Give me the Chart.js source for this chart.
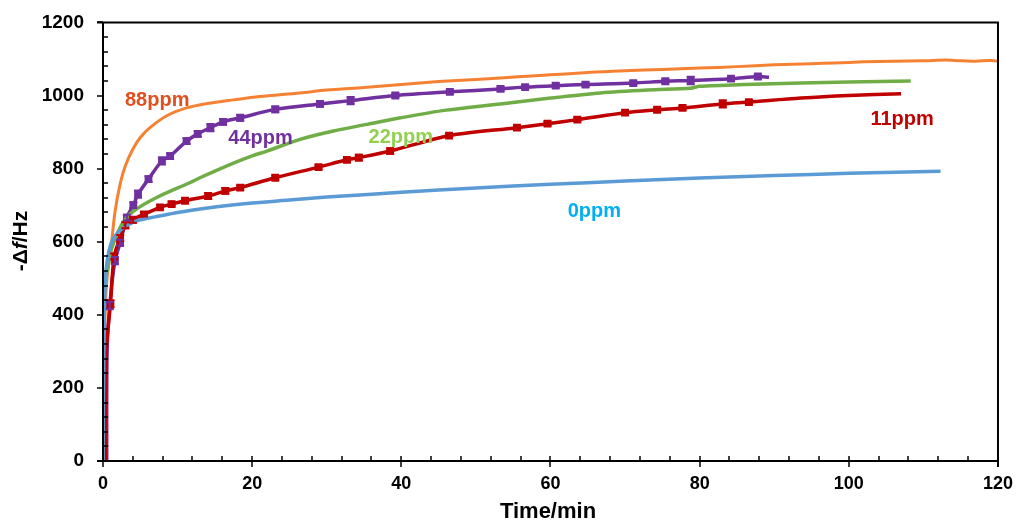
<!DOCTYPE html>
<html>
<head>
<meta charset="utf-8">
<script src="https://cdn.jsdelivr.net/npm/chart.js@4.4.1/dist/chart.umd.min.js"></script>
<style>
html,body{margin:0;padding:0;background:#fff;}
#wrap{width:1017px;height:525px;position:relative;}
</style>
</head>
<body>
<div id="wrap"><canvas id="c" width="1017" height="525"></canvas></div>
<script>
// ---- data (time in min, -Δf in Hz) ----
const blueT = [0, 0.15, 0.4, 0.8, 1.3, 2, 3, 4, 5, 7, 10, 15, 20, 25, 30, 40, 50, 60, 70, 80, 90, 100, 112.3];
const blueV = [0, 380, 520, 575, 605, 625, 642, 653, 660, 668, 680, 695, 706, 714, 722, 735, 747, 757, 766, 774, 781, 787, 793];

const orangeT = [0, 0.15, 0.4, 0.7, 1, 1.6, 2.3, 3, 4, 5, 6.3, 8.5, 11.2, 14, 17.5, 21, 26.4, 30, 35, 40, 45, 50, 53.3, 58, 62, 66, 70, 75, 80, 85, 90, 95, 98, 102, 106, 110, 113, 115, 117, 119, 120];
const orangeV = [0, 300, 460, 530, 570, 680, 758, 808, 853, 885, 912, 944, 966, 978, 988, 997, 1007, 1015, 1022, 1030, 1038, 1044, 1048, 1054, 1059, 1064, 1068, 1071, 1075, 1079, 1084, 1087, 1089, 1092, 1094, 1095, 1097, 1095, 1094, 1096, 1094];

const greenT = [0, 0.05, 0.5, 1, 1.8, 2.7, 4.1, 7.2, 11.7, 13, 17.5, 20, 22, 26.4, 30.9, 35.4, 39.9, 46, 53.3, 60, 66.7, 73, 78.8, 80, 86, 93.6, 100, 108.3];
const greenV = [0, 512, 515, 570, 616, 653, 684, 721, 762, 775, 815, 835, 848, 880, 903, 921, 939, 960, 977, 993, 1007, 1015, 1020, 1025, 1030, 1034, 1037, 1040];

const redT = [0.35, 0.45, 1, 1.5, 2.3, 3, 4, 5.5, 7.65, 9.2, 11, 14.1, 16.4, 18.4, 23.1, 28.9, 32.7, 34.3, 38.5, 46.4, 55.5, 59.6, 63.6, 70, 74.3, 77.7, 83.1, 86.6, 93.6, 100, 107];
const redV = [0, 300, 430, 560, 610, 645, 660, 675, 694, 703, 712, 725, 739, 748, 775, 804, 824, 830, 848, 890, 912, 923, 934, 953, 961, 966, 977, 982, 993, 1000, 1005];
const redMarkT = [1, 1.5, 2.3, 3, 4, 5.5, 7.65, 9.2, 11, 14.1, 16.4, 18.4, 23.1, 28.9, 32.7, 34.3, 38.5, 46.4, 55.5, 59.6, 63.6, 70, 74.3, 77.7, 83.1, 86.6];
const redMarkV = [430, 560, 610, 645, 660, 675, 694, 703, 712, 725, 739, 748, 775, 804, 824, 830, 848, 890, 912, 923, 934, 953, 961, 966, 977, 982];
const redErr   = [10, 8, 8, 8, 8, 6, 6, 6, 6, 8, 8, 6, 6, 6, 6, 8, 8, 6, 6, 6, 6, 6, 6, 6, 10, 6];

const purpleT = [0.5, 0.55, 0.9, 1.6, 2.3, 3.2, 4.07, 4.7, 6.1, 7.9, 9.0, 11.2, 12.7, 14.4, 16.1, 18.4, 23.1, 29.1, 33.2, 39.2, 46.5, 53.3, 56.6, 60.7, 64.7, 71.1, 75.4, 78.8, 84.2, 87.8, 89.3];
const purpleV = [0, 300, 425, 548, 597, 666, 700, 730, 771, 821, 834, 875, 895, 912, 928, 939, 962, 977, 986, 1000, 1010, 1018, 1023, 1027, 1030, 1034, 1039, 1041, 1046, 1052, 1050];
const purpleMarkT = [0.9, 1.6, 2.3, 3.2, 4.07, 4.7, 6.1, 7.9, 9.0, 11.2, 12.7, 14.4, 16.1, 18.4, 23.1, 29.1, 33.2, 39.2, 46.5, 53.3, 56.6, 60.7, 64.7, 71.1, 75.4, 78.8, 84.2, 87.8];
const purpleMarkV = [425, 548, 597, 666, 700, 730, 771, 821, 834, 875, 895, 912, 928, 939, 962, 977, 986, 1000, 1010, 1018, 1023, 1027, 1030, 1034, 1039, 1041, 1046, 1052];
const purpleErr   = [10, 10, 8, 8, 8, 10, 8, 10, 8, 8, 8, 10, 8, 8, 8, 8, 10, 6, 6, 6, 6, 6, 6, 6, 6, 10, 6, 6];

const labels = [
  {text: '88ppm', x: 2.95, y: 987, color: '#E0501E'},
  {text: '44ppm', x: 16.8, y: 883, color: '#7030A0'},
  {text: '22ppm', x: 35.6, y: 885, color: '#92D050'},
  {text: '11ppm', x: 102.9, y: 935, color: '#C00000'},
  {text: '0ppm', x: 62.3, y: 682, color: '#00B0F0'}
];

const xTicks = [0, 20, 40, 60, 80, 100, 120];
const yTicks = [0, 200, 400, 600, 800, 1000, 1200];

const toXY = (ts, vs) => ts.map((t, i) => ({x: t, y: vs[i]}));
const FONT = '"Liberation Sans", Arial, sans-serif';

function lineDs(ts, vs, color, w) {
  return {data: toXY(ts, vs), borderColor: color, backgroundColor: color, borderWidth: w,
          pointRadius: 0, tension: 0.3, fill: false};
}
function markDs(ts, vs, errs, color) {
  return {data: toXY(ts, vs), errors: errs, borderColor: color, backgroundColor: color,
          showLine: false, pointStyle: 'rect', pointRadius: 5.5, pointBorderWidth: 0};
}

const frameAndTicks = {
  id: 'frameAndTicks',
  afterDraw(chart) {
    const ctx = chart.ctx, a = chart.chartArea, xs = chart.scales.x, ys = chart.scales.y;
    ctx.save();
    ctx.strokeStyle = '#000';
    ctx.lineWidth = 2;
    ctx.beginPath();
    ctx.moveTo(a.left - 6, a.top); ctx.lineTo(a.right, a.top);
    ctx.lineTo(a.right, a.bottom + 6);
    ctx.moveTo(a.left, a.top); ctx.lineTo(a.left, a.bottom);
    ctx.moveTo(a.left - 6, a.bottom); ctx.lineTo(a.right, a.bottom);
    ctx.stroke();
    ctx.lineWidth = 1.5;
    ctx.beginPath();
    for (let v = 0; v <= 1200; v += 40) {
      const y = Math.round(ys.getPixelForValue(v));
      if (v % 200 === 0) { ctx.moveTo(a.left - 6, y); ctx.lineTo(a.left, y); }
      else { ctx.moveTo(a.left, y); ctx.lineTo(a.left + 5, y); }
    }
    for (let t = 0; t <= 120; t += 4) {
      const x = Math.round(xs.getPixelForValue(t));
      if (t % 20 === 0) { ctx.moveTo(x, a.bottom - 5); ctx.lineTo(x, a.bottom + 6); }
      else { ctx.moveTo(x, a.bottom); ctx.lineTo(x, a.bottom - 5); }
    }
    ctx.stroke();
    // axis titles
    ctx.fillStyle = '#000';
    ctx.font = 'bold 22px ' + FONT;
    ctx.textAlign = 'center'; ctx.textBaseline = 'alphabetic';
    ctx.fillText('Time/min', 548, 518);
    ctx.translate(27, 241);
    ctx.rotate(-Math.PI / 2);
    const parts = [['-\u0394', 'bold 21px ' + FONT], ['f', 'bold italic 21px ' + FONT], ['/Hz', 'bold 21px ' + FONT]];
    let total = 0;
    parts.forEach(p => { ctx.font = p[1]; total += ctx.measureText(p[0]).width; });
    let cx = -total / 2;
    ctx.textAlign = 'left';
    parts.forEach(p => { ctx.font = p[1]; ctx.fillText(p[0], cx, 0); cx += ctx.measureText(p[0]).width; });
    ctx.restore();
  }
};

const errorBars = {
  id: 'errorBars',
  afterDatasetsDraw(chart) {
    const ctx = chart.ctx, ys = chart.scales.y;
    ctx.save();
    chart.data.datasets.forEach((ds, i) => {
      if (!ds.errors) return;
      const meta = chart.getDatasetMeta(i);
      ctx.strokeStyle = ds.borderColor;
      ctx.lineWidth = 2;
      meta.data.forEach((pt, j) => {
        const e = ds.errors[j], v = ds.data[j].y;
        const y1 = ys.getPixelForValue(v - e), y2 = ys.getPixelForValue(v + e);
        ctx.beginPath();
        ctx.moveTo(pt.x, y1); ctx.lineTo(pt.x, y2);
        ctx.moveTo(pt.x - 4, y1); ctx.lineTo(pt.x + 4, y1);
        ctx.moveTo(pt.x - 4, y2); ctx.lineTo(pt.x + 4, y2);
        ctx.stroke();
      });
    });
    ctx.restore();
  }
};

const textLabels = {
  id: 'textLabels',
  afterDatasetsDraw(chart) {
    const ctx = chart.ctx, xs = chart.scales.x, ys = chart.scales.y;
    ctx.save();
    ctx.font = 'bold 20px ' + FONT;
    ctx.textAlign = 'left'; ctx.textBaseline = 'middle';
    labels.forEach(l => {
      ctx.fillStyle = l.color;
      ctx.fillText(l.text, xs.getPixelForValue(l.x), ys.getPixelForValue(l.y));
    });
    ctx.restore();
  }
};

new Chart(document.getElementById('c'), {
  type: 'line',
  data: {
    datasets: [
      lineDs(blueT, blueV, '#5B9BD5', 3.5),
      lineDs(greenT, greenV, '#70AD47', 3.5),
      lineDs(redT, redV, '#C00000', 3.5),
      markDs(redMarkT, redMarkV, redErr, '#C00000'),
      lineDs(purpleT, purpleV, '#7030A0', 3.5),
      markDs(purpleMarkT, purpleMarkV, purpleErr, '#7030A0'),
      lineDs(orangeT, orangeV, '#F58232', 3)
    ]
  },
  options: {
    responsive: false,
    animation: false,
    layout: {padding: {left: 0, right: 15, top: 13, bottom: 0}},
    plugins: {legend: {display: false}, tooltip: {enabled: false}},
    scales: {
      x: {
        type: 'linear', min: 0, max: 120,
        afterFit(s) { s.height = 64; },
        afterBuildTicks(s) { s.ticks = xTicks.map(v => ({value: v})); },
        grid: {display: false},
        border: {display: false},
        ticks: {color: '#000', font: {family: FONT, size: 18, weight: 'bold'}, padding: 4, maxRotation: 0,
                callback: v => String(v)}
      },
      y: {
        type: 'linear', min: 0, max: 1200,
        afterFit(s) { s.width = 103; },
        afterBuildTicks(s) { s.ticks = yTicks.map(v => ({value: v})); },
        grid: {display: false},
        border: {display: false},
        ticks: {color: '#000', font: {family: FONT, size: 19, weight: 'bold'}, padding: 11,
                callback: v => String(v)}
      }
    }
  },
  plugins: [frameAndTicks, errorBars, textLabels]
});
</script>
</body>
</html>
